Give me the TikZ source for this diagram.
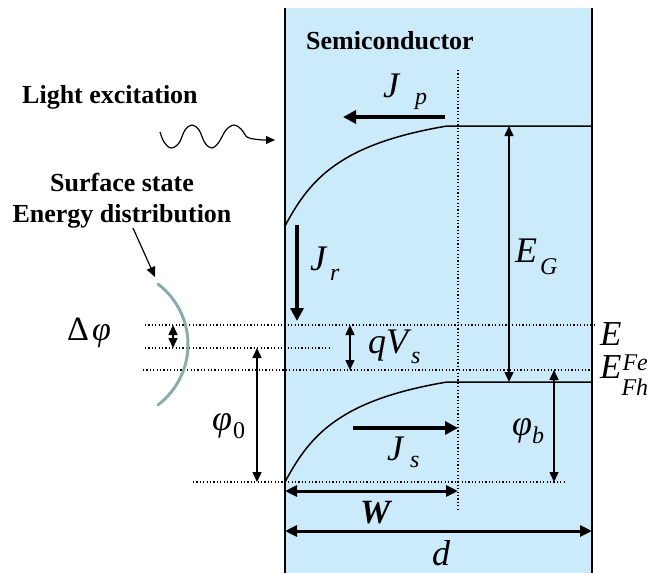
\documentclass[tikz,border=0pt]{standalone}
\usepackage{fontspec}
\setmainfont{Liberation Serif}
\usetikzlibrary{arrows.meta}
\definecolor{semiblue}{RGB}{204,235,250}
\definecolor{stategray}{RGB}{140,172,172}
\newcommand{\mfs}{\fontsize{36}{40}\selectfont}
\newcommand{\sfs}{\fontsize{24}{26}\selectfont}
\newcommand{\lbl}[4]{{\mfs\itshape #1\hspace{#3}\raisebox{-#4}{\sfs #2}}}
\begin{document}
\begin{tikzpicture}[x=1pt,y=-1pt,
  dotline/.style={line width=1.2pt, dash pattern=on 1.2pt off 2.2pt},
  band/.style={line width=1.5pt},
  border/.style={line width=2pt},
  thinarr/.style={line width=1.5pt, {Triangle[length=10pt,width=9pt]}-{Triangle[length=10pt,width=9pt]}},
  onearr/.style={line width=1.5pt, -{Triangle[length=10pt,width=9pt]}},
  thickarr/.style={line width=4pt, -{Triangle[length=13pt,width=13pt]}},
  dimarr/.style={line width=3pt, {Triangle[length=12pt,width=11pt]}-{Triangle[length=12pt,width=11pt]}},
  lab/.style={inner sep=0pt, anchor=base west},
  boldtxt/.style={inner sep=0pt, font=\fontsize{26}{29}\selectfont\bfseries}
]
\useasboundingbox (0,0) rectangle (654,573);
% semiconductor slab
\fill[semiblue] (285,8) rectangle (592,573);
% dotted lines
\coordinate (l1a) at (145,325); \coordinate (l1b) at (597,325);
\coordinate (l2a) at (145,348); \coordinate (l2b) at (332,348);
\coordinate (l3a) at (143,370); \coordinate (l3b) at (595,370);
\coordinate (l4a) at (193,482); \coordinate (l4b) at (565,482);
\coordinate (vda) at (458,70);  \coordinate (vdb) at (458,510);
\draw[dotline] (l1a) -- (l1b);
\draw[dotline] (l2a) -- (l2b);
\draw[dotline] (l3a) -- (l3b);
\draw[dotline] (l4a) -- (l4b);
\draw[dotline] (vda) -- (vdb);
% borders
\coordinate (bLt) at (285,8); \coordinate (bLb) at (285,573);
\coordinate (bRt) at (592,8); \coordinate (bRb) at (592,573);
\draw[border] (bLt) -- (bLb);
\draw[border] (bRt) -- (bRb);
% bands
\coordinate (cbL) at (285,226); \coordinate (cbK) at (447,126); \coordinate (cbR) at (592,126);
\coordinate (vbL) at (285,482); \coordinate (vbK) at (447,382); \coordinate (vbR) at (592,382);
\draw[band] (cbL) .. controls (310,179) and (340,144) .. (cbK) -- (cbR);
\draw[band] (vbL) .. controls (310,435) and (340,400) .. (vbK) -- (vbR);
% surface state distribution
\coordinate (ssT) at (158,284); \coordinate (ssB) at (158,405);
\draw[stategray, line width=3pt, line cap=round] (ssT) .. controls (198,315) and (198,374) .. (ssB);
% light
\coordinate (wvE) at (275,140);
\draw[line width=1.2pt, -{Triangle[length=9pt,width=8pt]}] plot[smooth, tension=0.6] coordinates {(160,132) (164,142) (171,148) (179,143) (185,130) (192,125) (199,130) (205,143) (212,148) (219,142) (226,130) (234,125) (241,129) (247,137) (254,139) (263,140)} -- (wvE);
% texts
\node[boldtxt, anchor=base] (semi) at (390,49) {Semiconductor};
\node[boldtxt, anchor=base west] (light) at (22,103) {Light excitation};
\node[boldtxt, anchor=base] (surf1) at (122,191) {Surface state};
\node[boldtxt, anchor=base] (surf2) at (122,222) {Energy distribution};
\coordinate (ssA) at (133,228); \coordinate (ssC) at (155,277);
\draw[onearr, line width=1.2pt] (ssA) -- (ssC);
% current arrows
\coordinate (jpA) at (445,117); \coordinate (jpB) at (343,117);
\coordinate (jrA) at (297,225); \coordinate (jrB) at (297,321);
\coordinate (jsA) at (353,428); \coordinate (jsB) at (458,428);
\draw[thickarr] (jpA) -- (jpB);
\draw[thickarr] (jrA) -- (jrB);
\draw[thickarr] (jsA) -- (jsB);
% dimension arrows
\coordinate (wA) at (285,491); \coordinate (wB) at (458,491);
\coordinate (dA) at (285,531); \coordinate (dB) at (592,531);
\draw[dimarr] (wA) -- (wB);
\draw[dimarr] (dA) -- (dB);
% thin double arrows
\coordinate (dpA) at (173,325); \coordinate (dpB) at (173,348);
\coordinate (qvA) at (350,325); \coordinate (qvB) at (350,370);
\coordinate (p0A) at (257,348); \coordinate (p0B) at (257,482);
\coordinate (egA) at (509,126); \coordinate (egB) at (509,382);
\coordinate (pbA) at (554,370); \coordinate (pbB) at (554,482);
\draw[thinarr] (dpA) -- (dpB);
\draw[thinarr] (qvA) -- (qvB);
\draw[thinarr] (p0A) -- (p0B);
\draw[thinarr] (egA) -- (egB);
\draw[thinarr] (pbA) -- (pbB);
% labels
\node[lab] (jp) at (383,97) {\lbl{J}{p}{16pt}{7pt}};
\node[lab] (jr) at (310,270) {\lbl{J}{r}{4pt}{10pt}};
\node[lab] (js) at (387,460) {\lbl{J}{s}{7pt}{7pt}};
\node[lab] (qv) at (368,353) {\lbl{qV}{s}{3pt}{10pt}};
\node[lab] (phi0) at (212,430) {{\mfs\itshape φ}\hspace{1pt}\raisebox{-8pt}{\sfs 0}};
\node[lab] (eg) at (515,262) {\lbl{E}{G}{3pt}{12pt}};
\node[lab] (phib) at (512,435) {\lbl{φ}{b}{0pt}{8pt}};
\node[lab] (dphi) at (67,340) {\fontsize{34}{36}\selectfont Δ\hspace{3pt}\itshape φ};
\node[lab] (efe) at (600,345) {{\fontsize{35}{38}\selectfont\itshape E}\hspace{1pt}\raisebox{-25pt}{\fontsize{24}{26}\selectfont\itshape Fe}};
\node[lab] (efh) at (600,378) {{\fontsize{35}{38}\selectfont\itshape E}\hspace{0pt}\raisebox{-17pt}{\fontsize{24}{26}\selectfont\itshape Fh}};
\node[lab, font=\fontsize{34}{36}\selectfont\bfseries\itshape] (w) at (360,523) {W};
\node[lab] (d) at (432,565) {\mfs\itshape d};
\end{tikzpicture}
\end{document}
